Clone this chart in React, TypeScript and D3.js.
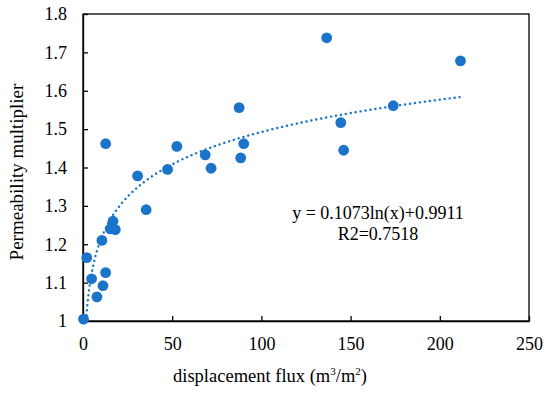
import * as d3 from "d3";
import React, { useEffect, useRef } from "react";

// displacement flux (m3/m2) and permeability multiplier
const fluxValues = [
  0.3, 2.1, 4.8, 7.8, 11.2, 12.7, 10.6, 16.8, 15.3, 18.1, 35.4, 12.7, 30.6, 47.4,
  52.6, 68.5, 71.8, 87.5, 90.1, 88.4, 136.6, 211.6, 173.9, 144.5, 146.1,
];
const multiplierValues = [
  1.005, 1.165, 1.11, 1.063, 1.092, 1.126, 1.21, 1.26, 1.24, 1.238, 1.29, 1.462,
  1.378, 1.395, 1.455, 1.433, 1.398, 1.556, 1.462, 1.425, 1.738, 1.678, 1.561,
  1.517, 1.445,
];
const xTicks = [0, 50, 100, 150, 200, 250];
const yTicks = [1, 1.1, 1.2, 1.3, 1.4, 1.5, 1.6, 1.7, 1.8];
const yTickLabels = ["1", "1.1", "1.2", "1.3", "1.4", "1.5", "1.6", "1.7", "1.8"];
// equation as printed on the chart
const eqText = "y = 0.1073ln(x)+0.9911";
const r2Text = "R2=0.7518";
// the dotted curve as it is actually drawn
const trendA = 0.1215;
const trendB = 0.933;

const W = 550;
const H = 395;
const margin = { top: 14, right: 21, bottom: 74, left: 83 };
const FONT = "'Liberation Serif', 'Times New Roman', serif";
const BLUE = "#1b74c9";

export default function App() {
  const ref = useRef<SVGSVGElement>(null);

  useEffect(() => {
    const svg = d3.select(ref.current);
    svg.selectAll("*").remove();

    const x = d3.scaleLinear().domain([0, 250]).range([margin.left, W - margin.right]);
    const y = d3.scaleLinear().domain([1, 1.8]).range([H - margin.bottom, margin.top]);

    svg.append("rect").attr("width", W).attr("height", H).attr("fill", "#fff");

    svg
      .append("defs")
      .append("clipPath")
      .attr("id", "plot-clip")
      .append("rect")
      .attr("x", margin.left)
      .attr("y", margin.top)
      .attr("width", W - margin.left - margin.right)
      .attr("height", H - margin.top - margin.bottom);

    // frame
    svg
      .append("rect")
      .attr("x", margin.left)
      .attr("y", margin.top)
      .attr("width", W - margin.left - margin.right)
      .attr("height", H - margin.top - margin.bottom)
      .attr("fill", "none")
      .attr("stroke", "#000")
      .attr("stroke-width", 1.3);

    // x axis, ticks point inward
    const xAxis = svg
      .append("g")
      .attr("transform", `translate(0,${H - margin.bottom})`)
      .call(d3.axisBottom(x).tickValues(xTicks).tickSizeInner(-5).tickSizeOuter(0).tickPadding(16));
    xAxis.select(".domain").attr("stroke", "#000").attr("stroke-width", 1.3);
    xAxis.selectAll(".tick line").attr("stroke-width", 1.3);
    xAxis.selectAll("text").attr("font-family", FONT).attr("font-size", 18).attr("fill", "#000");

    // y axis, ticks point inward too
    const yAxis = svg
      .append("g")
      .attr("transform", `translate(${margin.left},0)`)
      .call(
        d3
          .axisLeft(y)
          .tickValues(yTicks)
          .tickFormat((_, i) => yTickLabels[i])
          .tickSizeInner(-5)
          .tickSizeOuter(0)
          .tickPadding(16)
      );
    yAxis.select(".domain").attr("stroke", "#000").attr("stroke-width", 1.3);
    yAxis.selectAll(".tick line").attr("stroke-width", 1.3);
    yAxis.selectAll("text").attr("font-family", FONT).attr("font-size", 18).attr("fill", "#000");

    // logarithmic trendline over the data range
    const xMin = d3.min(fluxValues) as number;
    const xMax = d3.max(fluxValues) as number;
    const trend = d3
      .range(0, 301)
      .map((i) => {
        const t = xMin * Math.pow(xMax / xMin, i / 300);
        return [t, trendA * Math.log(t) + trendB] as [number, number];
      })
      .filter((d) => d[1] >= 1);
    svg
      .append("path")
      .datum(trend)
      .attr("clip-path", "url(#plot-clip)")
      .attr("fill", "none")
      .attr("stroke", BLUE)
      .attr("stroke-width", 2.4)
      .attr("stroke-linecap", "round")
      .attr("stroke-dasharray", "0.1,4.9")
      .attr(
        "d",
        d3
          .line<[number, number]>()
          .x((d) => x(d[0]))
          .y((d) => y(d[1]))
      );

    // points
    svg
      .append("g")
      .selectAll("circle")
      .data(fluxValues.map((v, i) => [v, multiplierValues[i]]))
      .enter()
      .append("circle")
      .attr("cx", (d) => x(d[0]))
      .attr("cy", (d) => y(d[1]))
      .attr("r", 5.4)
      .attr("fill", BLUE);

    // equation
    const eq = svg
      .append("g")
      .attr("font-family", FONT)
      .attr("font-size", 18)
      .attr("fill", "#000")
      .attr("text-anchor", "middle");
    eq.append("text").attr("x", 378).attr("y", 219).text(eqText);
    eq.append("text").attr("x", 378).attr("y", 240).text(r2Text);

    // axis titles
    const xt = svg
      .append("text")
      .attr("x", 270)
      .attr("y", 382)
      .attr("text-anchor", "middle")
      .attr("font-family", FONT)
      .attr("font-size", 18.5)
      .attr("fill", "#000");
    xt.append("tspan").text("displacement flux (m");
    xt.append("tspan").attr("font-size", 11).attr("dy", -7).text("3");
    xt.append("tspan").attr("dy", 7).text("/m");
    xt.append("tspan").attr("font-size", 11).attr("dy", -7).text("2");
    xt.append("tspan").attr("dy", 7).text(")");

    svg
      .append("text")
      .attr("transform", `translate(23,172) rotate(-90)`)
      .attr("text-anchor", "middle")
      .attr("font-family", FONT)
      .attr("font-size", 19)
      .attr("fill", "#000")
      .text("Permeability multiplier");
  }, []);

  return (
    <svg
      ref={ref}
      width={W}
      height={H}
      style={{ position: "absolute", left: 0, top: 0, display: "block" }}
    />
  );
}
